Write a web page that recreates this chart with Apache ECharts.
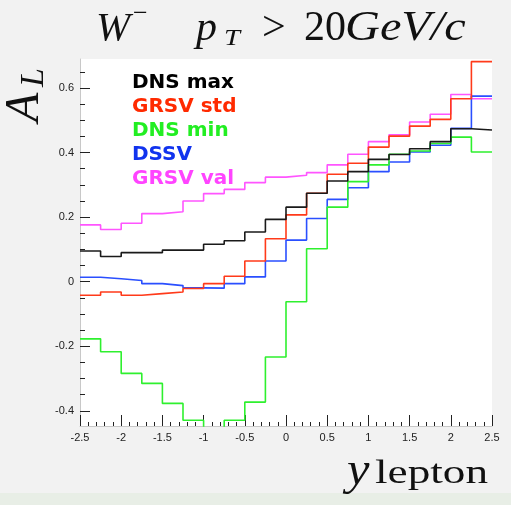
<!DOCTYPE html>
<html>
<head>
<meta charset="utf-8">
<script src="https://cdn.jsdelivr.net/npm/echarts@6/dist/echarts.min.js"></script>
<style>
  html, body { margin: 0; padding: 0; background: #f2f2f2; }
  #chart { width: 511px; height: 505px; }
</style>
</head>
<body>
<div id="chart"></div>
<script>
// bin edges in lepton rapidity (20 bins of 0.25)
const yEdges = [-2.5, -2.25, -2, -1.75, -1.5, -1.25, -1, -0.75, -0.5, -0.25, 0,
  0.25, 0.5, 0.75, 1, 1.25, 1.5, 1.75, 2, 2.25, 2.5];

// A_L per bin
const dnsMax = [0.095, 0.078, 0.090, 0.090, 0.098, 0.098, 0.116, 0.127, 0.154, 0.193,
  0.231, 0.274, 0.312, 0.341, 0.379, 0.394, 0.412, 0.434, 0.474, 0.470];
const grsvStd = [-0.042, -0.032, -0.042, -0.037, -0.032, -0.021, -0.006, 0.017, 0.064, 0.133,
  0.207, 0.274, 0.333, 0.367, 0.417, 0.451, 0.482, 0.503, 0.567, 0.682];
const dnsMin = [-0.177, -0.217, -0.284, -0.315, -0.377, -0.429, -0.48, -0.429, -0.373, -0.233,
  -0.062, 0.102, 0.231, 0.310, 0.362, 0.395, 0.405, 0.428, 0.448, 0.402];
const dssv = [0.014, 0.009, 0.004, -0.006, -0.012, -0.019, -0.020, -0.006, 0.015, 0.064,
  0.129, 0.196, 0.255, 0.291, 0.341, 0.371, 0.402, 0.423, 0.475, 0.575];
const grsvVal = [0.176, 0.162, 0.181, 0.211, 0.217, 0.250, 0.273, 0.286, 0.307, 0.324,
  0.330, 0.338, 0.362, 0.395, 0.434, 0.455, 0.495, 0.519, 0.580, 0.567];

const yMajor = [-0.4, -0.2, 0, 0.2, 0.4, 0.6];
const yMajorLabels = ['-0.4', '-0.2', '0', '0.2', '0.4', '0.6'];
const yMinor = [-0.45, -0.35, -0.3, -0.25, -0.15, -0.1, -0.05, 0.05, 0.1, 0.15,
  0.25, 0.3, 0.35, 0.45, 0.5, 0.55, 0.65];

const names = ['DNS max', 'GRSV std', 'DNS min', 'DSSV', 'GRSV val'];
const lineColors = ['#1a1a1a', '#ff3a1a', '#2ef02e', '#2a4fff', '#ff55ff'];
const textColors = ['#000000', '#ff2a00', '#22ee22', '#1133ee', '#ff44ff'];
const values = [dnsMax, grsvStd, dnsMin, dssv, grsvVal];

// last edge repeats the last bin so the step closes at 2.5
function stepData(vals) {
  return yEdges.map((x, i) => [x, vals[Math.min(i, vals.length - 1)]]);
}

const chart = echarts.init(document.getElementById('chart'));
const serif = 'Liberation Serif';

const option = {
  backgroundColor: '#f2f2f2',
  animation: false,
  grid: {
    left: 80, right: 19, top: 59, bottom: 79,
    show: true, backgroundColor: '#ffffff', borderWidth: 0
  },
  legend: {
    orient: 'vertical',
    left: 122, top: 66,
    icon: 'none',
    itemWidth: 0, itemHeight: 0, itemGap: 0,
    selectedMode: false,
    textStyle: { fontFamily: 'DejaVu Sans', fontWeight: 'bold', fontSize: 20, lineHeight: 24 },
    data: names.map((n, i) => ({ name: n, textStyle: { color: textColors[i] } }))
  },
  xAxis: {
    type: 'value',
    min: -2.5, max: 2.5, interval: 0.5,
    axisLine: { show: true, onZero: false, lineStyle: { color: '#c8c8c8', width: 1 } },
    axisTick: { show: true, inside: true, length: 11, lineStyle: { color: '#222' } },
    minorTick: { show: true, splitNumber: 5, length: 4, lineStyle: { color: '#222' } },
    axisLabel: { interval: 0, margin: 6, color: '#222', fontFamily: 'Liberation Sans', fontSize: 11,
      showMinLabel: true, showMaxLabel: true },
    splitLine: { show: false }
  },
  yAxis: [{
    type: 'value',
    min: -0.447, max: 0.69,
    position: 'left',
    axisLine: { show: true, onZero: false, lineStyle: { color: '#c8c8c8', width: 1 } },
    axisTick: { show: true, inside: true, length: 10, customValues: yMajor, lineStyle: { color: '#222' } },
    axisLabel: {
      customValues: yMajor, margin: 6, color: '#222', fontFamily: 'Liberation Sans', fontSize: 11,
      formatter: v => yMajorLabels[yMajor.findIndex(t => Math.abs(t - v) < 1e-6)]
    },
    splitLine: { show: false }
  }, {
    type: 'value',
    min: -0.447, max: 0.69,
    position: 'left',
    axisLine: { show: false, onZero: false },
    axisTick: { show: true, inside: true, length: 5, customValues: yMinor, lineStyle: { color: '#222' } },
    axisLabel: { show: false },
    splitLine: { show: false }
  }],
  series: names.map((n, i) => ({
    name: n,
    type: 'line',
    step: 'end',
    symbol: 'none',
    clip: true,
    color: textColors[i],
    lineStyle: { color: lineColors[i], width: 1.6 },
    data: stepData(values[i])
  })).reverse(),
  graphic: [
    { type: 'rect', shape: { x: 0, y: 493, width: 511, height: 12 }, style: { fill: '#e8eee6' }, silent: true },
    // title  W^-  p_T > 20GeV/c
    { type: 'text', x: 96, y: 29, style: { text: 'W', font: 'italic 41px ' + serif, fill: '#111', verticalAlign: 'middle' } },
    { type: 'text', x: 133, y: 14, style: { text: '\u2212', font: '26px ' + serif, fill: '#111', verticalAlign: 'middle' } },
    { type: 'text', x: 196, y: 29, style: { text: 'p', font: 'italic 42px ' + serif, fill: '#111', verticalAlign: 'middle' } },
    { type: 'text', x: 224, y: 39, style: { text: 'T', font: 'italic 24px ' + serif, fill: '#111', verticalAlign: 'middle' }, scaleX: 1.2 },
    { type: 'text', x: 262, y: 29, style: { text: '>', font: '42px ' + serif, fill: '#111', verticalAlign: 'middle' } },
    { type: 'text', x: 304, y: 29, style: { text: '20', font: '42px ' + serif, fill: '#111', verticalAlign: 'middle' } },
    { type: 'text', x: 345, y: 29, style: { text: 'GeV/c', font: 'italic 42px ' + serif, fill: '#111', verticalAlign: 'middle' }, scaleX: 1.15 },
    // y axis name A_L, rotated
    { type: 'text', x: 25, y: 122, rotation: Math.PI / 2, style: { text: 'A', font: 'italic 48px ' + serif, fill: '#111', verticalAlign: 'middle' } },
    { type: 'text', x: 34, y: 87, rotation: Math.PI / 2, style: { text: 'L', font: 'italic 34px ' + serif, fill: '#111', verticalAlign: 'middle' } },
    // x axis name y lepton
    { type: 'text', x: 347, y: 472, style: { text: 'y', font: 'italic 46px ' + serif, fill: '#111', verticalAlign: 'middle' }, scaleX: 1.1 },
    { type: 'text', x: 375, y: 474, style: { text: 'lepton', font: '34px ' + serif, fill: '#111', verticalAlign: 'middle' }, scaleX: 1.33 }
  ]
};

chart.setOption(option);
</script>
</body>
</html>
